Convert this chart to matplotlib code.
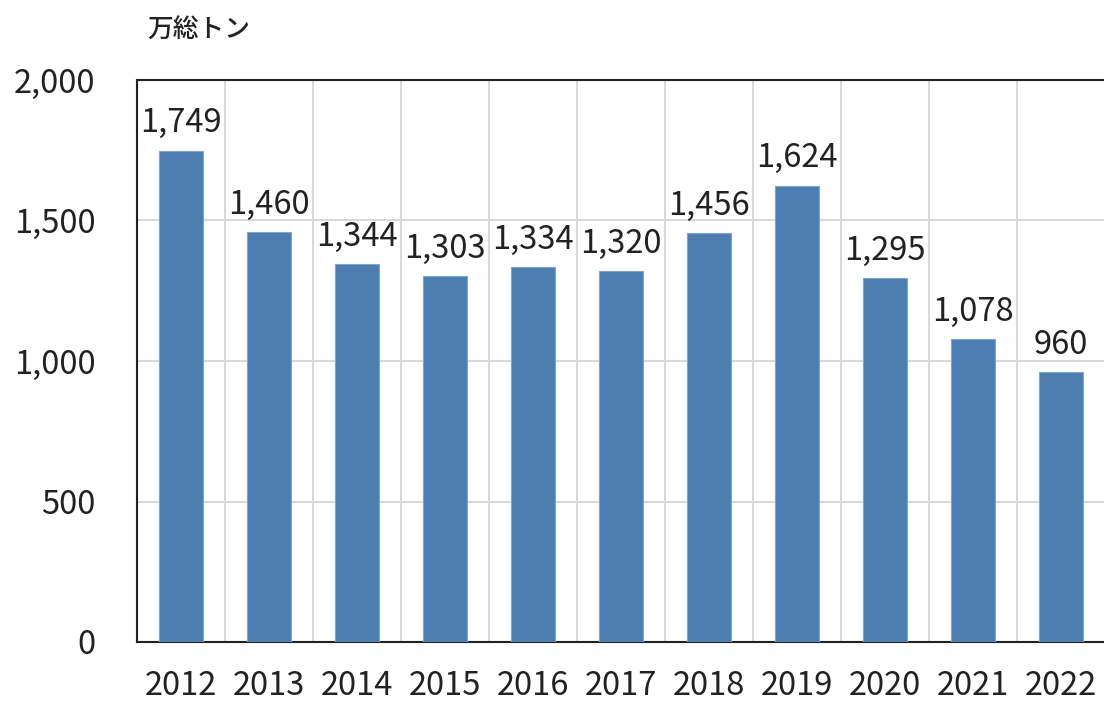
import matplotlib
matplotlib.use("Agg")
import matplotlib.pyplot as plt
import numpy as np

years = ["2012", "2013", "2014", "2015", "2016", "2017", "2018", "2019", "2020", "2021", "2022"]
values = [1749, 1460, 1344, 1303, 1334, 1320, 1456, 1624, 1295, 1078, 960]
yticks = [0, 500, 1000, 1500, 2000]
unit_label = "万総トン"

plt.rcParams['font.family'] = ['Noto Sans CJK JP', 'DejaVu Sans']

fig = plt.figure(figsize=(11.04, 7.04), dpi=100)
ax = fig.add_axes([137/1104, 62/704, 968/1104, 562/704])

x = np.arange(len(years))
ax.bar(x, values, width=0.5, color="#4E7DB1", edgecolor="#7FA3CB", linewidth=0.8, zorder=3)
for xi, v in zip(x, values):
    ax.text(xi, v + 40, f"{v:,}", ha="center", va="bottom", fontsize=23.5, color="#222222")

ax.set_xlim(-0.5, len(years) - 0.5)
ax.set_ylim(0, 2000)
ax.set_yticks(yticks)
ax.set_yticklabels([f"{t:,}" for t in yticks], fontsize=23.5, color="#222222")
ax.set_xticks(x)
ax.set_xticklabels(years, fontsize=23.5, color="#222222")
ax.set_xticks(np.arange(-0.5, len(years), 1), minor=True)
ax.tick_params(axis="both", which="both", length=0)
ax.tick_params(axis="x", pad=20)
ax.tick_params(axis="y", pad=30)
ax.yaxis.grid(True, color="#D9D9D9", linewidth=1.5, zorder=0)
ax.xaxis.grid(True, which="minor", color="#D9D9D9", linewidth=1.5, zorder=0)
ax.xaxis.grid(False, which="major")
for s in ["top", "left", "bottom"]:
    ax.spines[s].set_color("#222222")
    ax.spines[s].set_linewidth(1.5)
ax.spines["right"].set_visible(False)

fig.text(147/1104, 1 - 30/704, unit_label, fontsize=18.5, fontweight="medium", color="#222222", va="center", ha="left")

fig.savefig("out.png", dpi=100)
